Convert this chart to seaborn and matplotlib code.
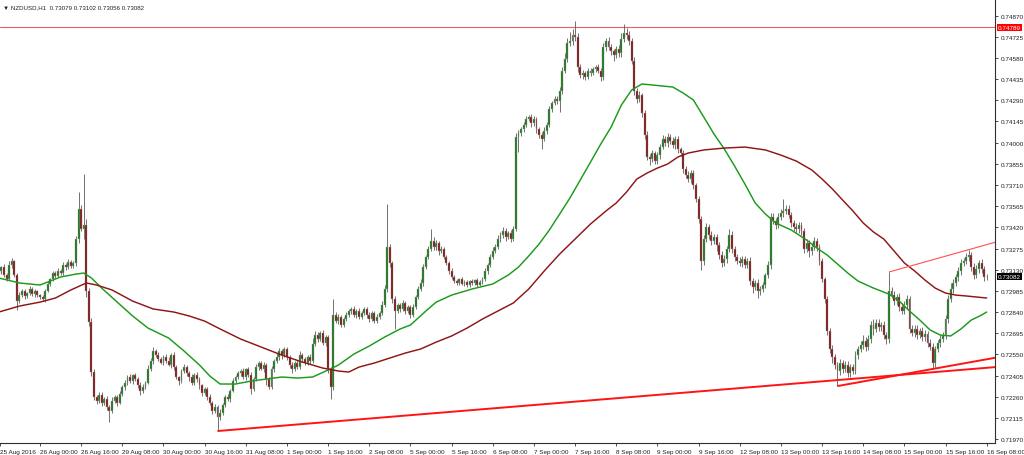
import numpy as np
import pandas as pd
import seaborn as sns
import matplotlib.pyplot as plt
import matplotlib.transforms as mtransforms

# NZDUSD H1, 25 Aug 2016 08:00 -> 16 Sep 2016 08:00 (prices in points, 1e-5)
open0 = 73100
close_pts = (
    [73121, 73148, 73093, 73066, 73162, 73189, 73093, 72915, 72956, 72984, 72950, 72970, 72998, 72963, 72984, 72956]  # 25 Aug
    + [72943, 72929, 72984, 73032, 73066, 73107, 73087, 73121, 73107, 73162, 73148, 73182, 73155, 73176, 73340, 73546, 73409, 73436, 72984, 72771, 72429, 72258, 72230, 72271]  # 26 Aug
    + [72217, 72244, 72189, 72162, 72230, 72258, 72217, 72278, 72326, 72354, 72395, 72367, 72408, 72381, 72340, 72299, 72326, 72354, 72450, 72504, 72573, 72545, 72518, 72491]  # 29 Aug
    + [72532, 72504, 72477, 72545, 72463, 72395, 72367, 72436, 72463, 72422, 72395, 72354, 72408, 72381, 72340, 72285, 72312, 72258, 72217, 72162, 72189, 72121, 72148, 72203]  # 30 Aug
    + [72258, 72244, 72299, 72367, 72395, 72422, 72436, 72395, 72450, 72408, 72312, 72381, 72463, 72491, 72450, 72477, 72381, 72326, 72450, 72504, 72532, 72573, 72545, 72587]  # 31 Aug
    + [72532, 72477, 72450, 72491, 72463, 72545, 72518, 72491, 72532, 72504, 72621, 72682, 72655, 72696, 72628, 72669, 72450, 72326, 72819, 72778, 72806, 72751, 72792, 72819]  # 1 Sep
    + [72847, 72861, 72819, 72847, 72806, 72833, 72861, 72819, 72792, 72833, 72778, 72806, 72833, 72888, 72998, 73285, 73176, 72929, 72847, 72888, 72861, 72902, 72847, 72874]  # 2 Sep
    + [72819, 72874, 72943, 72998, 73039, 73148, 73217, 73272, 73326, 73285, 73313, 73258, 73272, 73217, 73176, 73121, 73080, 73052, 73039, 73066, 73032, 73045, 73025, 73052]  # 5 Sep
    + [73039, 73059, 73025, 73045, 73066, 73121, 73162, 73217, 73258, 73285, 73340, 73367, 73395, 73354, 73381, 73340, 73409, 74039, 74066, 74094, 74121, 74162, 74176, 74135]  # 6 Sep
    + [74162, 74094, 74052, 74025, 74080, 74121, 74231, 74272, 74299, 74285, 74354, 74491, 74573, 74683, 74696, 74737, 74724, 74518, 74463, 74477, 74450, 74491, 74477, 74505]  # 7 Sep
    + [74518, 74491, 74450, 74655, 74696, 74655, 74628, 74600, 74642, 74614, 74710, 74751, 74737, 74696, 74559, 74354, 74299, 74326, 74203, 74052, 73902, 73888, 73929, 73874]  # 8 Sep
    + [73915, 73970, 74025, 73998, 74039, 74011, 73984, 74025, 73957, 73929, 73820, 73778, 73751, 73792, 73710, 73614, 73477, 73189, 73340, 73422, 73367, 73326, 73354, 73299]  # 9 Sep
    + [73230, 73176, 73203, 73272, 73367, 73272, 73217, 73189, 73176, 73203, 73162, 73189, 73052, 73011, 73039, 72984, 72998, 73025, 73093, 73162, 73491, 73463, 73436, 73491]  # 12 Sep
    + [73518, 73532, 73546, 73504, 73450, 73422, 73409, 73436, 73395, 73272, 73313, 73258, 73285, 73326, 73285, 73189, 73066, 72929, 72710, 72587, 72532, 72477, 72436, 72491]  # 13 Sep
    + [72450, 72477, 72422, 72463, 72436, 72545, 72587, 72614, 72641, 72600, 72655, 72751, 72724, 72765, 72737, 72751, 72682, 72655, 72984, 72956, 72915, 72943, 72874, 72847]  # 14 Sep
    + [72888, 72929, 72724, 72696, 72724, 72682, 72710, 72669, 72689, 72628, 72600, 72491, 72587, 72628, 72655, 72682, 72792, 72929, 72998, 73039, 73080, 73121, 73176, 73189]  # 15 Sep
    + [73217, 73230, 73148, 73093, 73135, 73176, 73135, 73079, 73082]  # 16 Sep
)

# upper / lower shadow length beyond the body, in points
wick_hi = (
    [15, 10, 20, 12, 25, 18, 10, 14, 20, 12, 16, 10, 18, 12, 15, 10]
    + [10, 14, 12, 18, 10, 15, 12, 20, 16, 22, 14, 18, 12, 15, 20, 116, 30, 349, 40, 20, 25, 18, 15, 20]
    + [20, 15, 18, 12, 25, 16, 14, 20, 12, 18, 15, 22, 10, 16, 14, 20, 18, 12, 25, 20, 30, 15, 18, 12]
    + [15, 20, 30, 12, 18, 14, 10, 16, 20, 12, 15, 18, 12, 20, 14, 10, 16, 12, 18, 14, 20, 12, 25, 15]
    + [12, 18, 15, 20, 14, 16, 12, 18, 10, 15, 20, 14, 18, 12, 16, 20, 14, 12, 18, 15, 30, 20, 14, 16]
    + [14, 12, 18, 15, 20, 25, 12, 16, 14, 18, 40, 25, 20, 15, 18, 12, 14, 16, 110, 20, 18, 15, 12, 20]
    + [15, 12, 18, 14, 20, 12, 16, 15, 18, 14, 12, 20, 15, 25, 30, 295, 20, 15, 18, 12, 16, 20, 14, 12]
    + [15, 18, 12, 20, 25, 18, 15, 20, 82, 25, 18, 15, 20, 12, 16, 14, 18, 12, 15, 10, 14, 12, 16, 10]
    + [12, 10, 14, 12, 16, 20, 15, 18, 25, 20, 30, 18, 25, 20, 15, 18, 20, 25, 20, 15, 18, 20, 14, 18]
    + [18, 15, 12, 20, 25, 18, 20, 15, 18, 20, 25, 30, 40, 35, 60, 40, 96, 25, 20, 18, 15, 20, 18, 14]
    + [15, 18, 20, 25, 20, 30, 18, 15, 20, 25, 40, 62, 35, 30, 20, 25, 18, 30, 15, 20, 25, 18, 20, 15]
    + [18, 20, 25, 18, 30, 20, 25, 18, 20, 15, 18, 20, 25, 18, 20, 15, 18, 20, 30, 25, 20, 25, 18, 20]
    + [20, 25, 30, 20, 40, 25, 20, 18, 25, 20, 18, 20, 25, 18, 20, 25, 18, 20, 15, 25, 30, 25, 20, 25]
    + [25, 82, 30, 25, 20, 18, 25, 20, 18, 20, 25, 20, 30, 25, 20, 18, 20, 15, 20, 18, 25, 20, 18, 30]
    + [20, 30, 25, 20, 18, 25, 20, 30, 40, 25, 30, 25, 40, 25, 30, 20, 25, 20, 130, 30, 25, 20, 30, 25]
    + [25, 30, 20, 25, 30, 25, 20, 30, 25, 20, 30, 25, 20, 18, 25, 20, 30, 25, 40, 25, 20, 30, 25, 20]
    + [25, 37, 20, 25, 30, 20, 25, 20, 20]
)
wick_lo = (
    [12, 18, 10, 15, 8, 20, 12, 60, 15, 10, 18, 12, 14, 10, 20, 12]
    + [15, 12, 18, 10, 14, 12, 16, 10, 14, 12, 18, 10, 15, 12, 20, 25, 15, 69, 41, 30, 25, 20, 18, 15]
    + [18, 12, 20, 76, 15, 12, 18, 10, 14, 20, 12, 16, 18, 14, 20, 25, 12, 15, 10, 14, 18, 12, 16, 10]
    + [12, 15, 10, 18, 20, 14, 25, 12, 16, 20, 30, 14, 12, 18, 25, 20, 14, 18, 12, 20, 15, 96, 20, 12]
    + [15, 12, 20, 10, 16, 14, 18, 12, 20, 15, 30, 12, 14, 18, 10, 20, 40, 15, 12, 18, 14, 20, 25, 12]
    + [18, 20, 25, 12, 15, 14, 18, 12, 16, 20, 10, 14, 18, 12, 15, 20, 30, 82, 20, 15, 18, 12, 16, 14]
    + [12, 18, 15, 20, 14, 16, 12, 18, 20, 14, 16, 12, 15, 10, 14, 20, 25, 30, 123, 15, 20, 14, 18, 16]
    + [20, 14, 16, 12, 15, 18, 12, 14, 16, 20, 18, 25, 14, 16, 12, 18, 15, 14, 12, 16, 10, 14, 12, 15]
    + [14, 12, 16, 10, 12, 15, 18, 14, 12, 16, 15, 20, 18, 25, 16, 20, 14, 15, 103, 18, 20, 14, 16, 25]
    + [20, 25, 18, 68, 15, 20, 14, 18, 16, 20, 75, 20, 15, 18, 20, 25, 30, 35, 20, 25, 18, 14, 20, 16]
    + [20, 15, 25, 20, 30, 18, 25, 40, 20, 30, 25, 20, 30, 25, 20, 30, 25, 20, 25, 30, 20, 40, 18, 20]
    + [20, 25, 15, 20, 25, 18, 20, 25, 30, 20, 25, 18, 20, 30, 25, 20, 30, 60, 25, 20, 30, 25, 20, 40]
    + [30, 25, 20, 25, 20, 30, 25, 20, 18, 25, 20, 18, 25, 40, 20, 50, 25, 20, 18, 20, 25, 20, 30, 20]
    + [20, 25, 18, 20, 25, 30, 20, 25, 30, 25, 20, 40, 25, 20, 30, 25, 20, 25, 30, 25, 40, 30, 103, 30]
    + [25, 20, 30, 25, 20, 18, 25, 20, 30, 25, 20, 30, 40, 20, 30, 25, 30, 35, 25, 20, 30, 25, 30, 20]
    + [20, 25, 30, 20, 25, 30, 20, 25, 30, 25, 20, 41, 30, 20, 25, 20, 25, 30, 20, 25, 20, 30, 25, 20]
    + [20, 25, 30, 25, 20, 25, 30, 25, 23]
)

# moving averages (bar index, price points)
fast_bar = [0, 8, 16, 24, 30, 33, 36, 40, 46, 52, 58, 66, 72, 78, 82, 86, 92, 98, 104, 110,
            116, 122, 128, 132, 138, 144, 150, 156, 160, 166, 170, 176, 184, 192, 198, 202, 206, 210, 214, 218,
            222, 226, 230, 234, 238, 242, 246, 250, 254, 258, 262, 266, 270, 274, 278, 282, 286, 290, 294, 298,
            302, 308, 314, 318, 322, 326, 330, 334, 340, 346, 350, 354, 358, 362, 366, 370, 374, 378, 382, 384]
fast_pts = [73073, 73039, 73025, 73080, 73100, 73107, 73073, 73004, 72908, 72813, 72730, 72662, 72573, 72477, 72402, 72347, 72347, 72367, 72381, 72395,
            72388, 72395, 72443, 72477, 72552, 72607, 72669, 72724, 72751, 72847, 72908, 72956, 72998, 73032, 73093, 73148, 73224, 73306, 73402, 73511,
            73621, 73744, 73867, 73991, 74107, 74258, 74361, 74402, 74395, 74388, 74381, 74340, 74292, 74176, 74059, 73957, 73840, 73717, 73587, 73511,
            73450, 73402, 73333, 73278, 73230, 73169, 73107, 73052, 73004, 72963, 72915, 72847, 72785, 72717, 72682, 72676, 72724, 72785, 72819, 72840]
slow_bar = [0, 8, 16, 22, 28, 34, 38, 44, 52, 60, 68, 74, 80, 86, 94, 102, 110, 118, 126, 132,
            136, 140, 146, 152, 158, 164, 170, 176, 182, 188, 194, 200, 206, 212, 218, 224, 230, 236, 240, 244,
            248, 252, 256, 260, 264, 268, 274, 282, 290, 298, 304, 310, 316, 320, 324, 328, 332, 336, 340, 344,
            348, 352, 356, 360, 364, 368, 372, 376, 380, 384]
slow_pts = [72840, 72881, 72908, 72936, 72991, 73039, 73025, 72991, 72915, 72861, 72840, 72813, 72778, 72724, 72655, 72600, 72545, 72497, 72456, 72436,
            72429, 72463, 72491, 72525, 72559, 72587, 72634, 72676, 72730, 72792, 72847, 72902, 72998, 73121, 73237, 73340, 73443, 73532, 73587, 73662,
            73751, 73792, 73826, 73854, 73902, 73929, 73950, 73963, 73970, 73950, 73915, 73874, 73813, 73751, 73683, 73607, 73532, 73450, 73388, 73340,
            73258, 73176, 73121, 73059, 73004, 72970, 72956, 72950, 72943, 72936]

# hand-drawn objects: two anchor points each (bar, price points)
support_long = ((85, 72025), (384, 72458))
support_short = ((326, 72333), (363, 72450))
resist_line = ((346, 73114), (377, 73267))
level_price = 0.74789

tick_labels = ["25 Aug 2016", "26 Aug 00:00", "26 Aug 16:00", "29 Aug 08:00", "30 Aug 00:00",
               "30 Aug 16:00", "31 Aug 08:00", "1 Sep 00:00", "1 Sep 16:00", "2 Sep 08:00",
               "5 Sep 00:00", "5 Sep 16:00", "6 Sep 08:00", "7 Sep 00:00", "7 Sep 16:00",
               "8 Sep 08:00", "9 Sep 00:00", "9 Sep 16:00", "12 Sep 08:00", "13 Sep 00:00",
               "13 Sep 16:00", "14 Sep 08:00", "15 Sep 00:00", "15 Sep 16:00", "16 Sep 08:00"]

close = np.array(close_pts) / 1e5
open_ = np.r_[open0 / 1e5, close[:-1]]
high = np.maximum(open_, close) + np.array(wick_hi) / 1e5
low = np.minimum(open_, close) - np.array(wick_lo) / 1e5
df = pd.DataFrame({"bar": np.arange(len(close)), "open": open_, "high": high,
                   "low": low, "close": close})
up = df["close"] >= df["open"]

sns.set_theme(style="white")
plt.rcParams["font.family"] = ["Liberation Sans", "DejaVu Sans"]

fig = plt.figure(figsize=(10.24, 4.56), dpi=100)
ax = fig.add_axes([0, 12 / 456, 995 / 1024, 444 / 456])
x0, x1 = 0.45, 387.23
ax.set_xlim(x0, x1)
ax.set_ylim(0.71943, 0.74984)

# candles
ax.vlines(df["bar"], df["low"], df["high"], color="#5a5a5a", lw=0.6, zorder=2)
ax.bar(df["bar"][up], (df["close"] - df["open"])[up], bottom=df["open"][up], width=0.75,
       color="#127312", edgecolor="#a0a0a0", linewidth=0.3, zorder=3)
ax.bar(df["bar"][~up], (df["open"] - df["close"])[~up], bottom=df["close"][~up], width=0.75,
       color="#7d0c0c", edgecolor="#a0a0a0", linewidth=0.3, zorder=3)

# moving averages
sns.lineplot(x=fast_bar, y=np.array(fast_pts) / 1e5, ax=ax, color="#1c9a1c", lw=1.05,
             estimator=None, zorder=4)
sns.lineplot(x=slow_bar, y=np.array(slow_pts) / 1e5, ax=ax, color="#8e1616", lw=1.05,
             estimator=None, zorder=4)


def ray(anchors, **kw):
    (b1, p1), (b2, p2) = anchors
    slope = (p2 - p1) / (b2 - b1)
    ax.plot([b1, x1], [p1 / 1e5, (p1 + slope * (x1 - b1)) / 1e5], zorder=5,
            solid_capstyle="butt", **kw)


ray(support_long, color="#ff1414", lw=1.4)
ray(support_short, color="#ff1414", lw=1.4)
ray(resist_line, color="#ff5050", lw=0.8)
ax.axhline(level_price, color="#e86060", lw=0.8, zorder=1)

# axes styling (MT4 look)
for s in ["top", "left"]:
    ax.spines[s].set_visible(False)
for s in ["right", "bottom"]:
    ax.spines[s].set_color("#303030")
    ax.spines[s].set_linewidth(0.8)
ax.grid(False)

yticks = np.round(0.71970 + 0.00145 * np.arange(21), 5)
ax.yaxis.tick_right()
ax.set_yticks(yticks)
ax.set_yticklabels([f"{v:.5f}" for v in yticks])
ax.set_ylabel("")
xt = np.arange(0, len(close), 16).astype(float)
xt[0] = max(xt[0], x0)
ax.set_xticks(xt)
ax.set_xticklabels(tick_labels)
ax.tick_params(axis="both", direction="out", length=2.5, width=0.6, color="#303030",
               labelsize=4.6, labelcolor="#202020", pad=1.5)
ax.tick_params(axis="x", bottom=True)
ax.tick_params(axis="y", right=True)
for t in ax.get_xticklabels():
    t.set_horizontalalignment("left")

trans = mtransforms.blended_transform_factory(ax.transAxes, ax.transData)
ax.text(1.003, level_price, f"{level_price:.5f}", transform=trans, fontsize=4.6,
        color="white", va="center", ha="left", clip_on=False, zorder=10,
        bbox=dict(facecolor="#ff0000", edgecolor="none", pad=0.8))
ax.text(1.003, close[-1], f"{close[-1]:.5f}", transform=trans, fontsize=4.6,
        color="white", va="center", ha="left", clip_on=False, zorder=10,
        bbox=dict(facecolor="black", edgecolor="none", pad=0.8))

ax.text(0.003, 0.988,
        f"\u25bc NZDUSD,H1  {open_[-1]:.5f} {high[-1]:.5f} {low[-1]:.5f} {close[-1]:.5f}",
        transform=ax.transAxes, fontsize=4.4, color="#202020", va="top", ha="left",
        family=["Liberation Sans", "DejaVu Sans"])

fig.savefig("out.png", dpi=100, facecolor="white")
